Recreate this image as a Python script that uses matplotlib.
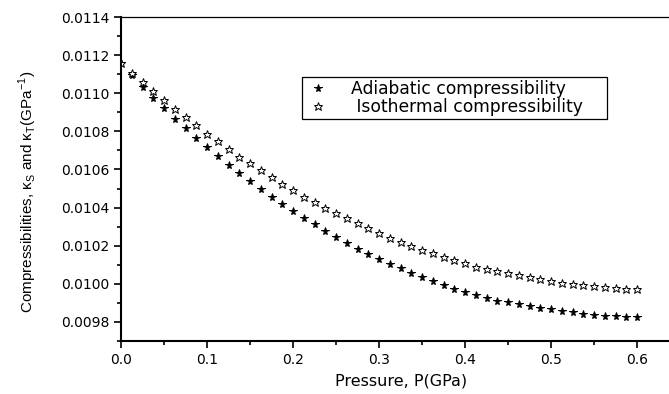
"""Adiabatic vs isothermal compressibility as a function of pressure."""
import matplotlib
matplotlib.use("Agg")
import matplotlib.pyplot as plt
import numpy as np
from matplotlib.ticker import FormatStrFormatter, MultipleLocator

plt.rcParams["font.family"] = ["DejaVu Sans"]
plt.rcParams["mathtext.fontset"] = "custom"
plt.rcParams["mathtext.rm"] = "Liberation Sans"

# --- dati ---
pressure = np.arange(49) * 0.0125  # GPa, 0 .. 0.6

kappa_s = [
    0.011157, 0.011096, 0.011034, 0.010977, 0.010921, 0.010866, 0.010816,
    0.010767, 0.010716, 0.010671, 0.010624, 0.010580, 0.010540, 0.010496,
    0.010454, 0.010417, 0.010382, 0.010347, 0.010313, 0.010279, 0.010247,
    0.010215, 0.010185, 0.010157, 0.010129, 0.010104, 0.010082, 0.010059,
    0.010038, 0.010017, 0.009994, 0.009975, 0.009957, 0.009940, 0.009924,
    0.009912, 0.009903, 0.009893, 0.009884, 0.009875, 0.009867, 0.009858,
    0.009851, 0.009844, 0.009838, 0.009833, 0.009830, 0.009826, 0.009825,
]
kappa_t = [
    0.011157, 0.011108, 0.011059, 0.011012, 0.010965, 0.010919, 0.010874,
    0.010832, 0.010788, 0.010748, 0.010708, 0.010667, 0.010633, 0.010597,
    0.010559, 0.010524, 0.010492, 0.010457, 0.010431, 0.010400, 0.010373,
    0.010344, 0.010318, 0.010292, 0.010268, 0.010242, 0.010221, 0.010199,
    0.010178, 0.010160, 0.010141, 0.010125, 0.010108, 0.010090, 0.010078,
    0.010066, 0.010055, 0.010047, 0.010034, 0.010024, 0.010015, 0.010006,
    0.009999, 0.009993, 0.009987, 0.009982, 0.009977, 0.009973, 0.009972,
]
labels = ["Adiabatic compressibility", " Isothermal compressibility"]

W, H = 669, 394
fig = plt.figure(figsize=(W / 100, H / 100), dpi=100)
ax = fig.add_axes([121 / W, 53 / H, 548 / W, 324 / H])

ax.plot(pressure, kappa_s, ls="none", marker="*", ms=5.8,
        mfc="black", mec="black", mew=0.7, label=labels[0])
ax.plot(pressure, kappa_t, ls="none", marker="*", ms=6.3,
        mfc="white", mec="black", mew=0.7, label=labels[1])

ax.set_xlim(0, 0.637)
ax.set_ylim(0.0097, 0.0114)
ax.xaxis.set_major_locator(MultipleLocator(0.1))
ax.xaxis.set_minor_locator(MultipleLocator(0.05))
ax.yaxis.set_major_locator(MultipleLocator(0.0002))
ax.yaxis.set_minor_locator(MultipleLocator(0.0001))
ax.xaxis.set_major_formatter(FormatStrFormatter("%.1f"))
ax.yaxis.set_major_formatter(FormatStrFormatter("%.4f"))
ax.tick_params(which="both", direction="out", labelsize=10, width=1.2,
               top=False, right=False)
ax.tick_params(which="major", length=5)
ax.tick_params(which="minor", length=3)

ax.spines["right"].set_visible(False)
ax.spines["left"].set_linewidth(1.5)
ax.spines["bottom"].set_linewidth(1.5)
ax.spines["top"].set_linewidth(0.9)

ax.set_xlabel("Pressure, P(GPa)", fontsize=11.5)
ax.set_ylabel(r"Compressibilities, κ$_\mathregular{S}$ and "
              r"κ$_\mathregular{T}$(GPa$^\mathregular{-1}$)",
              fontsize=11, family="Liberation Sans")
ax.xaxis.set_label_coords(0.511, -0.1)
ax.yaxis.set_label_coords(-0.15, 0.46)

leg = ax.legend(loc="upper left", mode="expand",
                bbox_to_anchor=(302 / W, 1 - 118 / H, 305 / W, 41 / H),
                bbox_transform=fig.transFigure, borderaxespad=0,
                fontsize=12.3, handlelength=1.6, handletextpad=1.1,
                borderpad=0.15, labelspacing=0.05, fancybox=False,
                framealpha=1, edgecolor="black")
leg.get_frame().set_linewidth(0.9)

fig.savefig("out.png", dpi=100)
